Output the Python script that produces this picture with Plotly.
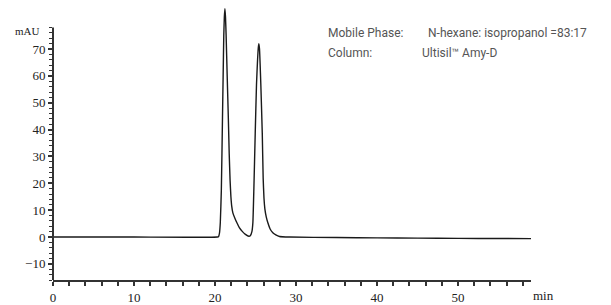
import plotly.graph_objects as go

# retention time (min) and absorbance (mAU)
time_min = [0, 10, 20.3, 20.44, 20.55, 20.65, 20.78, 20.92, 21.0, 21.08, 21.15, 21.22,
            21.29, 21.37, 21.50, 21.64, 21.75, 21.86, 21.96, 22.06, 22.20, 22.45, 22.70, 23.0, 23.36,
            23.75, 24.17, 24.35, 24.55, 24.67, 24.79, 24.96, 25.12, 25.25, 25.34, 25.41,
            25.49, 25.65, 25.83, 25.94, 26.04, 26.15, 26.32, 26.52, 26.80, 27.13, 27.50, 27.96, 29.2,
            35, 40, 45, 50, 55, 59]
absorb_mau = [0, 0, 0, 0.2, 1.5, 5.3, 17.5, 44.5, 60, 75, 82, 85,
              82, 75, 60, 44.5, 31, 21, 15, 11.5, 9, 7.0, 5.3, 3.5, 2.1,
              1.0, 0.3, 0.5, 2.0, 5.3, 17.5, 38.6, 57, 66, 70.5, 72,
              70, 57, 38.6, 22, 14.5, 10.5, 7.5, 5.3, 3.0, 1.6, 0.8, 0.2, 0,
              -0.2, -0.3, -0.4, -0.5, -0.55, -0.6]

x_ticks = [0, 10, 20, 30, 40, 50]
y_ticks = [-10, 0, 10, 20, 30, 40, 50, 60, 70]
x_minor = list(range(0, 59, 2))
y_minor = list(range(-16, 79, 2))

tick_font = dict(family="Liberation Serif", size=13, color="#222222")
axis_col = "#333333"

fig = go.Figure()
fig.add_trace(go.Scatter(x=time_min, y=absorb_mau, mode="lines",
                         line=dict(color="#1a1a1a", width=1.4, shape="spline", smoothing=0.4),
                         hoverinfo="skip", showlegend=False))

fig.update_layout(
    width=611, height=305,
    margin=dict(l=53, r=80, t=5, b=25, autoexpand=False),
    plot_bgcolor="white", paper_bgcolor="white",
    xaxis=dict(range=[0, 59], showgrid=False, zeroline=False, automargin=False,
               showline=True, linecolor=axis_col, linewidth=2,
               tickmode="array", tickvals=x_ticks, ticktext=[str(v) for v in x_ticks],
               ticks="outside", ticklen=4, tickwidth=1.5, tickcolor=axis_col,
               tickfont=tick_font,
               minor=dict(tickmode="array", tickvals=x_minor, ticks="outside",
                          ticklen=4, tickwidth=1.5, tickcolor=axis_col, showgrid=False)),
    yaxis=dict(range=[-16, 86.4], showgrid=False, zeroline=False, showline=False, automargin=False,
               tickmode="array", tickvals=y_ticks, ticktext=["\u221210"] + [str(v) for v in y_ticks[1:]],
               ticks="outside", ticklen=4, tickwidth=1.5, tickcolor=axis_col,
               tickfont=tick_font,
               minor=dict(tickmode="array", tickvals=y_minor, ticks="outside",
                          ticklen=3, tickwidth=1.2, tickcolor=axis_col, showgrid=False)),
    shapes=[dict(type="line", xref="paper", yref="y", x0=0, x1=0, y0=-16, y1=78,
                 line=dict(color=axis_col, width=2))],
    annotations=[
        dict(text="mAU", xref="paper", yref="paper", x=-0.054, y=(280.3 - 31) / 275.3, xanchor="center",
             yanchor="middle", showarrow=False,
             font=dict(family="Liberation Serif", size=11, color="#222222")),
        dict(text="min", xref="paper", yref="paper", x=1.0, y=-0.058, xanchor="left",
             yanchor="middle", showarrow=False,
             font=dict(family="Liberation Serif", size=13, color="#222222")),
        dict(text="Mobile Phase:", xref="paper", yref="paper", x=(326 - 53) / 478, y=(280.3 - 32.7) / 275.3,
             xanchor="left", yanchor="middle", showarrow=False,
             font=dict(family="Roboto", size=12, color="#555555")),
        dict(text="N-hexane: isopropanol =83:17", xref="paper", yref="paper", x=(426 - 53) / 478,
             y=(280.3 - 32.7) / 275.3, xanchor="left", yanchor="middle", showarrow=False,
             font=dict(family="Roboto", size=12, color="#555555")),
        dict(text="Column:", xref="paper", yref="paper", x=(326 - 53) / 478, y=(280.3 - 52.7) / 275.3,
             xanchor="left", yanchor="middle", showarrow=False,
             font=dict(family="Roboto", size=12, color="#555555")),
        dict(text="Ultisil\u2122 Amy-D", xref="paper", yref="paper", x=(420 - 53) / 478,
             y=(280.3 - 52.7) / 275.3, xanchor="left", yanchor="middle", showarrow=False,
             font=dict(family="Roboto", size=12, color="#555555")),
    ],
)

fig.write_html("out.html", post_script="document.body.style.margin='0';",
               config={"displayModeBar": False})
